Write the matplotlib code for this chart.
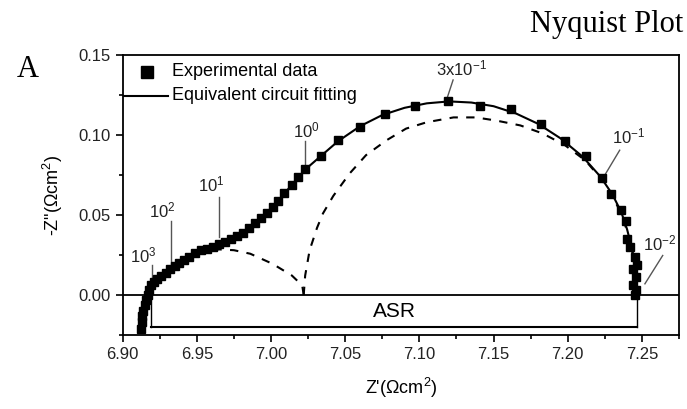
import numpy as np
import matplotlib.pyplot as plt
from matplotlib.ticker import MultipleLocator, FormatStrFormatter

plt.rcParams['font.family'] = ['Liberation Sans', 'DejaVu Sans']
plt.rcParams['mathtext.fontset'] = 'custom'
plt.rcParams['mathtext.rm'] = 'Liberation Sans'

# experimental data (Z', -Z'')
exp_re = [6.912, 6.913, 6.913, 6.914, 6.915, 6.916, 6.917, 6.918, 6.919, 6.921,
          6.923, 6.926, 6.929, 6.932, 6.935, 6.938, 6.941, 6.945, 6.949, 6.953,
          6.957, 6.961, 6.965, 6.969, 6.973, 6.977, 6.981, 6.985, 6.989, 6.993,
          6.997, 7.001, 7.005, 7.009, 7.014, 7.018, 7.023, 7.034, 7.045, 7.060,
          7.077, 7.097, 7.119, 7.141, 7.162, 7.182, 7.198, 7.212, 7.223, 7.229,
          7.236, 7.239, 7.240, 7.242, 7.245, 7.247, 7.244, 7.246, 7.244, 7.246,
          7.245]
exp_im = [-0.021, -0.017, -0.013, -0.010, -0.006, -0.003, 0.000, 0.003, 0.006, 0.008,
          0.010, 0.012, 0.014, 0.016, 0.018, 0.020, 0.022, 0.024, 0.026, 0.028,
          0.029, 0.030, 0.032, 0.033, 0.035, 0.037, 0.039, 0.042, 0.045, 0.048,
          0.051, 0.055, 0.059, 0.064, 0.069, 0.074, 0.079, 0.087, 0.097, 0.105,
          0.113, 0.118, 0.121, 0.118, 0.116, 0.107, 0.096, 0.087, 0.073, 0.063,
          0.053, 0.046, 0.035, 0.030, 0.024, 0.019, 0.016, 0.011, 0.006, 0.003,
          0.000]

# equivalent circuit fitting
fit_re = [6.912, 6.914, 6.916, 6.918, 6.921, 6.927, 6.935, 6.945, 6.955, 6.965,
          6.975, 6.985, 6.995, 7.005, 7.015, 7.025, 7.035, 7.045, 7.060, 7.075,
          7.090, 7.105, 7.120, 7.135, 7.150, 7.165, 7.180, 7.195, 7.210, 7.222,
          7.230, 7.236, 7.240, 7.243, 7.245, 7.246, 7.247]
fit_im = [-0.021, -0.012, -0.004, 0.003, 0.008, 0.0125, 0.018, 0.024, 0.0285, 0.032,
          0.036, 0.042, 0.0495, 0.059, 0.070, 0.080, 0.088, 0.096, 0.1055, 0.1125,
          0.117, 0.1198, 0.121, 0.1203, 0.118, 0.1135, 0.107, 0.098, 0.0865, 0.074,
          0.063, 0.052, 0.041, 0.030, 0.020, 0.010, 0.000]

# deconvoluted arcs (dashed)
arc1_re = [6.917, 6.920, 6.926, 6.935, 6.945, 6.955, 6.965, 6.975, 6.986, 7.001,
           7.014, 7.021, 7.022]
arc1_im = [0.000, 0.007, 0.013, 0.019, 0.024, 0.027, 0.0285, 0.028, 0.0258, 0.0195,
           0.0122, 0.006, 0.000]
arc2_re = [7.022, 7.023, 7.026, 7.031, 7.035, 7.042, 7.053, 7.064, 7.078, 7.091,
           7.105, 7.123, 7.138, 7.152, 7.168, 7.183, 7.198, 7.212, 7.223, 7.230,
           7.236, 7.240, 7.243, 7.245, 7.246, 7.247]
arc2_im = [0.000, 0.0122, 0.028, 0.042, 0.051, 0.062, 0.076, 0.0874, 0.0968, 0.104,
           0.108, 0.111, 0.111, 0.109, 0.106, 0.101, 0.0937, 0.084, 0.072, 0.062,
           0.051, 0.040, 0.030, 0.020, 0.010, 0.000]

# frequency labels: text, text centre, leader line start/end
freq_labels = [r'$\mathregular{10^{3}}$', r'$\mathregular{10^{2}}$', r'$\mathregular{10^{1}}$',
               r'$\mathregular{10^{0}}$', r'$\mathregular{3x10^{-1}}$',
               r'$\mathregular{10^{-1}}$', r'$\mathregular{10^{-2}}$']
freq_text_pos = [(6.914, 0.025), (6.927, 0.053), (6.960, 0.069), (7.024, 0.103),
                 (7.128, 0.1415), (7.241, 0.099), (7.262, 0.032)]
freq_line_from = [(6.920, 0.019), (6.9325, 0.046), (6.965, 0.061), (7.023, 0.096),
                  (7.1227, 0.1344), (7.235, 0.0905), (7.264, 0.0247)]
freq_line_to = [(6.920, 0.008), (6.9325, 0.0185), (6.965, 0.036), (7.023, 0.080),
                (7.119, 0.124), (7.225, 0.075), (7.252, 0.007)]

asr_re = [6.919, 7.247]
asr_im = -0.0197

fig = plt.figure(figsize=(6.87, 4.09), dpi=100)
ax = fig.add_axes([0.1786, 0.1809, 0.8098, 0.6846])

ax.axhline(0, color='k', lw=1.3, zorder=1)
ax.plot(arc1_re, arc1_im, color='k', lw=1.5, ls=(0, (4, 4)), zorder=2)
ax.plot(arc2_re, arc2_im, color='k', lw=1.5, ls=(0, (4, 4)), zorder=2)
ax.plot(fit_re, fit_im, color='k', lw=1.5, zorder=3)
ax.plot(exp_re, exp_im, 's', color='k', ms=5.5, zorder=4)

# ASR bar
ax.plot(asr_re, [asr_im, asr_im], color='k', lw=1.5)
ax.plot([asr_re[0], asr_re[0]], [asr_im, 0], color='k', lw=1.0)
ax.plot([asr_re[1], asr_re[1]], [asr_im, 0], color='k', lw=1.0)
ax.text(np.mean(asr_re), -0.0105, 'ASR', ha='center', va='center', fontsize=15)

for lab, tp, p0, p1 in zip(freq_labels, freq_text_pos, freq_line_from, freq_line_to):
    ax.text(tp[0], tp[1], lab, ha='center', va='center', fontsize=12, color='#222222')
    ax.plot([p0[0], p1[0]], [p0[1], p1[1]], color='#555555', lw=1.0)

ax.set_xlim(6.90, 7.275)
ax.set_ylim(-0.025, 0.15)
ax.xaxis.set_major_locator(MultipleLocator(0.05))
ax.xaxis.set_minor_locator(MultipleLocator(0.025))
ax.yaxis.set_major_locator(MultipleLocator(0.05))
ax.yaxis.set_minor_locator(MultipleLocator(0.025))
ax.xaxis.set_major_formatter(FormatStrFormatter('%.2f'))
ax.yaxis.set_major_formatter(FormatStrFormatter('%.2f'))
ax.tick_params(which='both', direction='out', top=False, right=False, labelsize=12,
               width=1.2, labelcolor='#222222')
ax.tick_params(which='major', length=5)
ax.tick_params(which='minor', length=3)
for s in ax.spines.values():
    s.set_linewidth(1.3)

ax.set_xlabel("Z'(\u03a9cm$^2$)", fontsize=13, labelpad=10)
ax.set_ylabel('-Z"(\u03a9cm$^2$)', fontsize=13, labelpad=10)

# legend drawn by hand
ax.plot([0.043], [0.940], 's', color='k', ms=8, transform=ax.transAxes, clip_on=False)
ax.text(0.089, 0.940, 'Experimental data', transform=ax.transAxes, va='center', fontsize=13)
ax.plot([0.0, 0.081], [0.854, 0.854], color='k', lw=1.5, transform=ax.transAxes)
ax.text(0.089, 0.854, 'Equivalent circuit fitting', transform=ax.transAxes, va='center', fontsize=13)

fig.text(0.995, 0.94, 'Nyquist Plot', ha='right', va='center', family='Liberation Serif', fontsize=22)
fig.text(0.04, 0.83, 'A', ha='center', va='center', family='Liberation Serif', fontsize=22)

fig.savefig('out.png', dpi=100)
